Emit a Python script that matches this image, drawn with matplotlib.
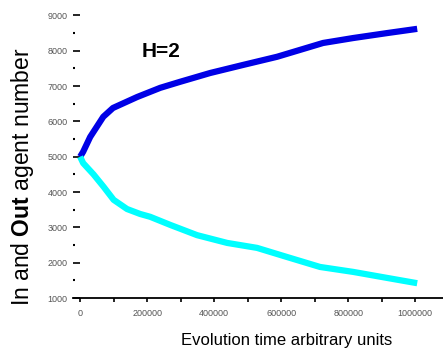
import numpy as np
import matplotlib.pyplot as plt
from matplotlib.ticker import MultipleLocator

plt.rcParams['font.family'] = ['Liberation Sans', 'DejaVu Sans']
plt.rcParams['mathtext.fontset'] = 'custom'
plt.rcParams['mathtext.bf'] = 'Liberation Sans:bold'

# Values
t_in = [0, 9000, 30000, 69000, 98000, 170000, 239000, 298000, 388000, 487000,
        588000, 725000, 815000, 916000, 1006000]
n_in = [5000, 5140, 5560, 6130, 6380, 6690, 6950, 7120, 7370, 7600,
        7830, 8220, 8360, 8500, 8620]

t_out = [0, 9000, 40000, 70000, 100000, 140000, 179000, 209000, 269000, 349000, 439000,
         528000, 618000, 716000, 815000, 916000, 1006000]
n_out = [5000, 4820, 4500, 4150, 3780, 3520, 3380, 3300, 3070, 2780, 2560,
         2420, 2160, 1880, 1740, 1570, 1420]

x_ticks = [0, 200000, 400000, 600000, 800000, 1000000]
y_ticks = [1000, 2000, 3000, 4000, 5000, 6000, 7000, 8000, 9000]

fig = plt.figure(figsize=(4.43, 3.49), dpi=100)
ax = fig.add_axes([0.165, 0.146, 0.835, 0.825])

ax.plot(t_in, n_in, color='#0000e6', lw=4.5, solid_capstyle='butt')
ax.plot(t_out, n_out, color='#00ffff', lw=4.5, solid_capstyle='butt')

ax.set_xlim(-21000, 1083000)
ax.set_ylim(1000, 9150)

ax.spines['top'].set_visible(False)
ax.spines['right'].set_visible(False)
ax.spines['left'].set_visible(False)
ax.spines['bottom'].set_linewidth(1.3)

ax.set_xticks(x_ticks)
ax.set_xticklabels([str(v) for v in x_ticks])
ax.xaxis.set_minor_locator(MultipleLocator(100000))
ax.set_yticks(y_ticks)
ax.yaxis.set_minor_locator(MultipleLocator(500))

ax.tick_params(axis='x', which='both', direction='out', length=3, width=1.2,
               labelsize=6.5, labelcolor='#555555', pad=5)
ax.tick_params(axis='y', which='major', direction='in', length=5, width=1.2,
               labelsize=6.5, labelcolor='#555555', pad=4)
ax.tick_params(axis='y', which='minor', direction='in', length=1.5, width=1.5)

ax.text(185000, 7970, 'H=2', fontsize=15, fontweight='bold', va='center')

ax.set_xlabel('Evolution time arbitrary units', fontsize=12)
ax.xaxis.label.set_va('center')
ax.xaxis.set_label_coords(0.576, -0.146)
ax.set_ylabel(r'In and $\bf{Out}$ agent number', fontsize=16.5)
ax.yaxis.set_label_coords(-0.1, 0.42)

fig.savefig('out.png', dpi=100)
